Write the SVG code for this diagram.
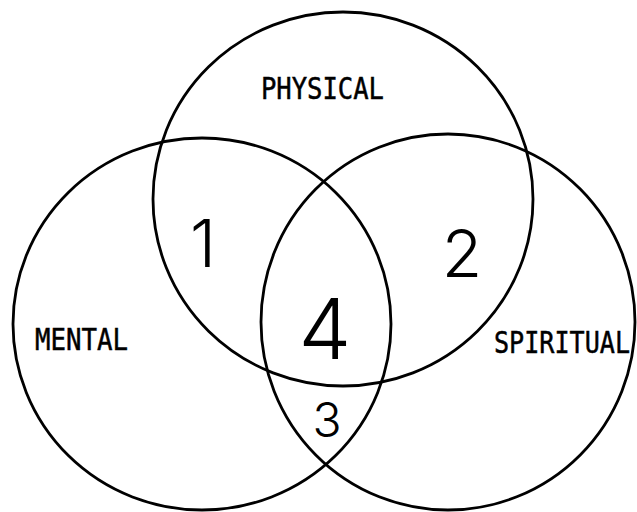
<svg xmlns="http://www.w3.org/2000/svg" width="637" height="512" viewBox="0 0 637 512">
  <style>
    .ring { fill: none; stroke: #000; stroke-width: 2.8; }
    .lbl { font-family: "DejaVu Sans Mono", "Liberation Mono", monospace; font-size: 30px; fill: #000; stroke: #000; stroke-width: 0.5; }
    .num { font-family: "Inter", "DejaVu Sans", sans-serif; font-weight: 300; fill: #000; text-anchor: middle; }
  </style>
  <rect width="637" height="512" fill="#fff"/>
  <g id="physical">
    <ellipse class="ring" cx="343" cy="199" rx="190" ry="187"/>
    <text class="lbl" x="261" y="99" textLength="123" lengthAdjust="spacingAndGlyphs">PHYSICAL</text>
  </g>
  <g id="mental">
    <ellipse class="ring" cx="202" cy="324" rx="189" ry="186"/>
    <text class="lbl" x="35" y="350" textLength="93" lengthAdjust="spacingAndGlyphs">MENTAL</text>
  </g>
  <g id="spiritual">
    <ellipse class="ring" cx="448" cy="322" rx="187" ry="188"/>
    <text class="lbl" x="494" y="353" textLength="136" lengthAdjust="spacingAndGlyphs">SPIRITUAL</text>
  </g>
  <g id="region-1"><text class="num" x="203" y="267" font-size="66">1</text></g>
  <g id="region-2"><text class="num" x="462" y="277" font-size="66">2</text></g>
  <g id="region-4"><text class="num" x="325" y="359" font-size="84">4</text></g>
  <g id="region-3"><text class="num" x="327" y="437" font-size="48">3</text></g>
</svg>
